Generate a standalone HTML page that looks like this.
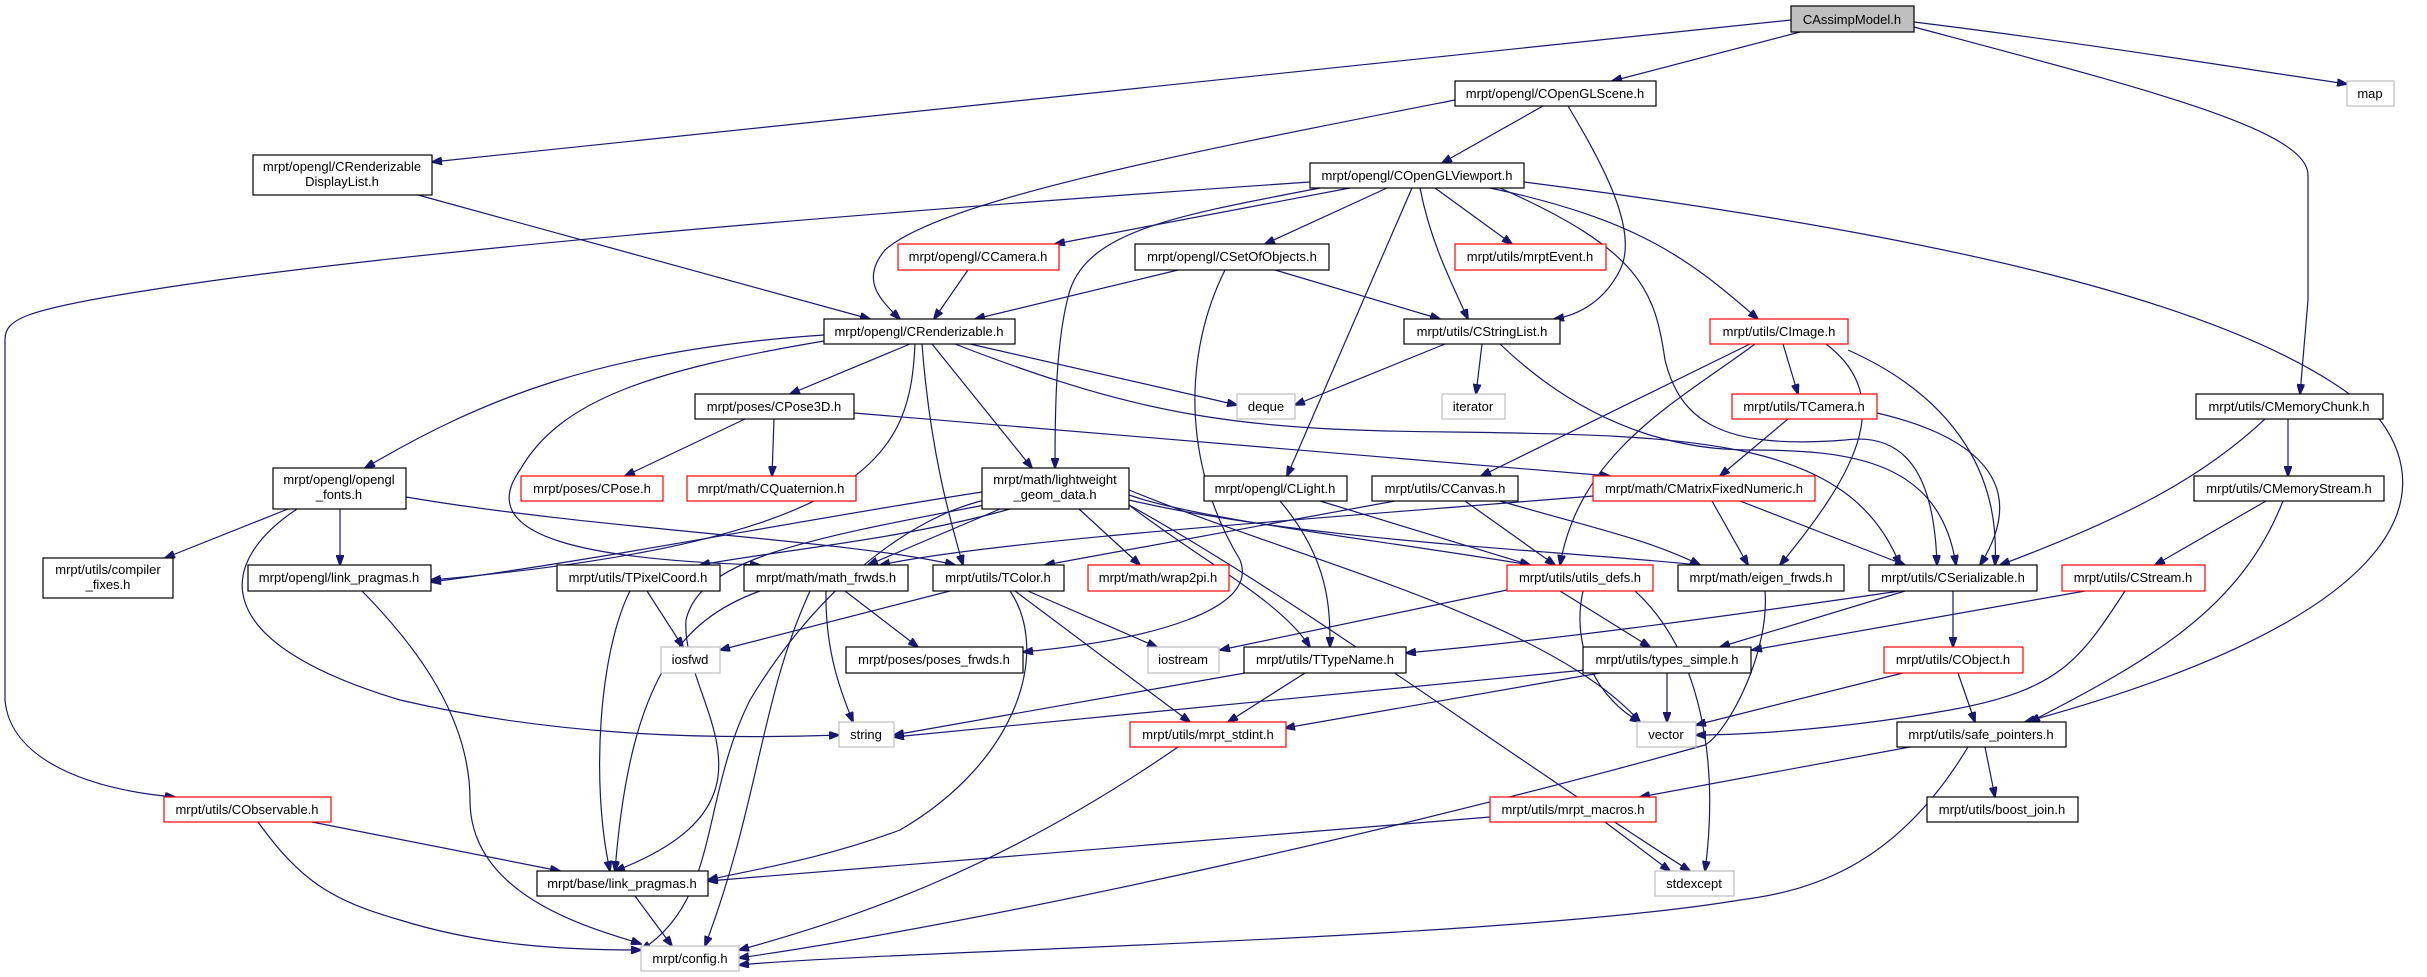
<!DOCTYPE html>
<html><head><meta charset="utf-8"><style>
html,body{margin:0;padding:0;background:#fff;}
svg{display:block;}
text{font-family:"Liberation Sans",sans-serif;font-size:13px;fill:#000;text-anchor:middle;}
.n rect{fill:#fff;stroke:#000;stroke-width:1.2;}
.r rect{fill:#fff;stroke:#ff0000;stroke-width:1.2;}
.g rect{fill:#fff;stroke:#bfbfbf;stroke-width:1.2;}
path{fill:none;stroke:#191970;stroke-width:1.2;}
</style></head><body>
<svg width="2427" height="977" viewBox="0 0 2427 977" xmlns="http://www.w3.org/2000/svg">
<defs><marker id="a" markerWidth="11" markerHeight="8" refX="10" refY="4" orient="auto" markerUnits="userSpaceOnUse"><polygon points="0,0 11,4 0,8" fill="#191970" stroke="#191970"/></marker></defs>
<g marker-end="url(#a)">
<path d="M1791,20 L432,162"/>
<path d="M1800,32 L1612,81"/>
<path d="M1914,22 C2100,45 2250,70 2347,84"/>
<path d="M1914,27 C2150,90 2308,130 2308,175 L2308,300 L2300,394"/>
<path d="M1455,100 C1200,150 940,200 885,250 C860,280 880,300 900,319"/>
<path d="M1543,106 L1442,163"/>
<path d="M1568,106 C1600,160 1640,230 1620,270 C1605,300 1580,315 1554,319"/>
<path d="M418,195 L870,319"/>
<path d="M1310,182 C900,210 400,250 150,290 C20,310 5,320 5,340 L5,700 C10,760 90,790 175,797"/>
<path d="M1350,188 L1055,244"/>
<path d="M1387,188 L1265,244"/>
<path d="M1320,188 C1180,215 1090,230 1070,290 C1055,340 1055,420 1055,468"/>
<path d="M1412,188 L1287,476"/>
<path d="M1420,188 C1430,240 1450,280 1468,319"/>
<path d="M1435,188 L1512,244"/>
<path d="M1490,188 C1640,220 1690,260 1758,319"/>
<path d="M1500,188 C1640,250 1655,290 1665,360 C1680,420 1720,450 1845,440 C1920,430 1935,500 1937,565"/>
<path d="M1524,182 C1900,230 2260,300 2380,420 C2440,500 2400,620 2025,722"/>
<path d="M968,270 L934,319"/>
<path d="M1178,270 L975,319"/>
<path d="M1275,270 L1440,319"/>
<path d="M1225,270 C1185,350 1180,460 1240,560 C1260,610 1150,640 1023,652"/>
<path d="M824,335 C600,350 480,400 365,468"/>
<path d="M830,340 C650,370 560,400 520,470 C470,540 600,560 760,565"/>
<path d="M910,344 L790,394"/>
<path d="M970,344 L1237,405"/>
<path d="M932,344 L1032,468"/>
<path d="M922,344 C930,450 950,520 963,565"/>
<path d="M955,344 C1150,420 1250,430 1450,432 C1700,435 1850,440 1900,565"/>
<path d="M915,344 C910,450 880,540 431,580"/>
<path d="M1445,344 L1295,405"/>
<path d="M1482,344 L1476,394"/>
<path d="M1500,344 C1600,440 1700,450 1750,450 C1850,450 1940,460 1956,565"/>
<path d="M745,419 L625,476"/>
<path d="M774,419 L772,476"/>
<path d="M854,413 L1610,476"/>
<path d="M1750,344 L1481,476"/>
<path d="M1783,344 L1798,394"/>
<path d="M1755,344 C1680,400 1580,450 1560,565"/>
<path d="M1826,344 C1900,400 1850,480 1780,565"/>
<path d="M1848,350 C1960,400 2000,480 1995,565"/>
<path d="M1788,419 L1720,476"/>
<path d="M1877,413 C1950,430 2040,470 1980,565"/>
<path d="M2265,419 C2200,480 2120,520 2000,565"/>
<path d="M2288,419 L2288,476"/>
<path d="M2266,501 L2155,565"/>
<path d="M2283,501 C2240,610 2150,660 2030,722"/>
<path d="M288,509 L165,558"/>
<path d="M340,509 L340,565"/>
<path d="M297,509 C220,560 200,640 400,700 C550,735 700,740 839,735"/>
<path d="M406,497 C600,530 850,540 955,565"/>
<path d="M982,492 C800,520 600,560 431,582"/>
<path d="M985,500 C900,520 810,600 750,700 C700,800 720,900 641,950"/>
<path d="M985,505 C800,540 700,560 686,620 C680,700 800,800 615,871"/>
<path d="M1000,509 L868,565"/>
<path d="M1010,509 C900,540 780,550 700,565"/>
<path d="M1129,495 C1200,520 1380,540 1530,565"/>
<path d="M1129,500 C1300,540 1550,550 1700,565"/>
<path d="M1129,505 C1200,560 1280,600 1310,647"/>
<path d="M1129,505 C1300,600 1500,750 1690,871"/>
<path d="M1129,490 C1300,560 1550,620 1640,722"/>
<path d="M1079,509 L1140,565"/>
<path d="M1280,501 C1330,560 1330,610 1330,647"/>
<path d="M1320,501 L1530,565"/>
<path d="M1395,501 L1045,565"/>
<path d="M1465,501 L1555,565"/>
<path d="M1500,501 C1600,530 1650,540 1700,565"/>
<path d="M1593,496 C1300,520 1000,540 880,565"/>
<path d="M1712,501 L1748,565"/>
<path d="M1740,501 L1905,565"/>
<path d="M1507,590 L1220,650"/>
<path d="M1560,591 L1650,647"/>
<path d="M1583,591 C1570,650 1600,700 1640,722"/>
<path d="M1635,591 C1700,650 1720,760 1705,871"/>
<path d="M1765,591 C1770,650 1730,730 1705,745 C1400,830 1000,920 739,958"/>
<path d="M1900,591 C1700,620 1550,640 1406,653"/>
<path d="M1905,591 L1720,647"/>
<path d="M1953,591 L1953,647"/>
<path d="M2085,591 L1752,650"/>
<path d="M2125,591 C2080,660 2060,690 1950,710 C1850,728 1750,735 1696,735"/>
<path d="M1903,673 L1696,725"/>
<path d="M1958,673 L1975,722"/>
<path d="M1910,747 L1640,797"/>
<path d="M1985,747 L1995,797"/>
<path d="M1968,747 C1900,860 1820,890 1740,900 C1500,940 900,950 739,965"/>
<path d="M845,591 L918,647"/>
<path d="M826,591 C825,650 840,690 853,722"/>
<path d="M760,591 C680,620 630,680 615,871"/>
<path d="M810,591 C760,700 760,800 705,946"/>
<path d="M647,591 L683,647"/>
<path d="M630,591 C600,650 590,780 610,871"/>
<path d="M1028,591 L1157,647"/>
<path d="M1015,591 L1190,722"/>
<path d="M1010,591 C1050,650 1020,760 900,830 C820,860 750,870 708,880"/>
<path d="M950,591 L720,650"/>
<path d="M1245,673 L894,735"/>
<path d="M1305,673 L1228,722"/>
<path d="M1585,670 L894,737"/>
<path d="M1600,673 L1285,728"/>
<path d="M1667,673 L1667,722"/>
<path d="M1178,747 C1000,870 850,920 739,950"/>
<path d="M1490,817 L708,881"/>
<path d="M1605,822 L1670,871"/>
<path d="M312,822 L560,871"/>
<path d="M258,822 C300,880 330,900 400,920 C480,945 560,950 641,950"/>
<path d="M635,896 L672,946"/>
<path d="M362,591 C420,650 470,720 470,800 C470,900 600,930 641,944"/>
</g>
<g class="n"><rect x="1791" y="6" width="123" height="26" style="fill:#bfbfbf"/><text x="1852" y="24">CAssimpModel.h</text></g>
<g class="g"><rect x="2347" y="81" width="47" height="25"/><text x="2370" y="98">map</text></g>
<g class="n"><rect x="253" y="155" width="179" height="40"/><text x="342" y="171">mrpt/opengl/CRenderizable</text><text x="342" y="186">DisplayList.h</text></g>
<g class="n"><rect x="1455" y="81" width="201" height="25"/><text x="1555" y="98">mrpt/opengl/COpenGLScene.h</text></g>
<g class="n"><rect x="1310" y="163" width="214" height="25"/><text x="1417" y="180">mrpt/opengl/COpenGLViewport.h</text></g>
<g class="r"><rect x="898" y="244" width="161" height="26"/><text x="978" y="261">mrpt/opengl/CCamera.h</text></g>
<g class="n"><rect x="1135" y="244" width="194" height="26"/><text x="1232" y="261">mrpt/opengl/CSetOfObjects.h</text></g>
<g class="r"><rect x="1455" y="244" width="151" height="26"/><text x="1530" y="261">mrpt/utils/mrptEvent.h</text></g>
<g class="n"><rect x="824" y="319" width="191" height="25"/><text x="919" y="336">mrpt/opengl/CRenderizable.h</text></g>
<g class="n"><rect x="1404" y="319" width="156" height="25"/><text x="1482" y="336">mrpt/utils/CStringList.h</text></g>
<g class="r"><rect x="1710" y="319" width="138" height="25"/><text x="1779" y="336">mrpt/utils/CImage.h</text></g>
<g class="g"><rect x="1237" y="394" width="58" height="25"/><text x="1266" y="411">deque</text></g>
<g class="g"><rect x="1442" y="394" width="63" height="25"/><text x="1473" y="411">iterator</text></g>
<g class="n"><rect x="695" y="394" width="159" height="25"/><text x="774" y="411">mrpt/poses/CPose3D.h</text></g>
<g class="r"><rect x="1732" y="394" width="145" height="25"/><text x="1804" y="411">mrpt/utils/TCamera.h</text></g>
<g class="n"><rect x="2196" y="394" width="187" height="25"/><text x="2289" y="411">mrpt/utils/CMemoryChunk.h</text></g>
<g class="n"><rect x="273" y="468" width="133" height="41"/><text x="339" y="484">mrpt/opengl/opengl</text><text x="339" y="499">_fonts.h</text></g>
<g class="r"><rect x="521" y="476" width="142" height="25"/><text x="592" y="493">mrpt/poses/CPose.h</text></g>
<g class="r"><rect x="687" y="476" width="169" height="25"/><text x="771" y="493">mrpt/math/CQuaternion.h</text></g>
<g class="n"><rect x="982" y="468" width="147" height="41"/><text x="1055" y="484">mrpt/math/lightweight</text><text x="1055" y="499">_geom_data.h</text></g>
<g class="n"><rect x="1204" y="476" width="143" height="25"/><text x="1275" y="493">mrpt/opengl/CLight.h</text></g>
<g class="n"><rect x="1372" y="476" width="146" height="25"/><text x="1445" y="493">mrpt/utils/CCanvas.h</text></g>
<g class="r"><rect x="1593" y="476" width="222" height="25"/><text x="1704" y="493">mrpt/math/CMatrixFixedNumeric.h</text></g>
<g class="n"><rect x="2194" y="476" width="190" height="25"/><text x="2289" y="493">mrpt/utils/CMemoryStream.h</text></g>
<g class="n"><rect x="43" y="558" width="130" height="40"/><text x="108" y="574">mrpt/utils/compiler</text><text x="108" y="589">_fixes.h</text></g>
<g class="n"><rect x="248" y="565" width="183" height="26"/><text x="339" y="582">mrpt/opengl/link_pragmas.h</text></g>
<g class="n"><rect x="557" y="565" width="163" height="26"/><text x="638" y="582">mrpt/utils/TPixelCoord.h</text></g>
<g class="n"><rect x="744" y="565" width="164" height="26"/><text x="826" y="582">mrpt/math/math_frwds.h</text></g>
<g class="n"><rect x="933" y="565" width="131" height="26"/><text x="998" y="582">mrpt/utils/TColor.h</text></g>
<g class="r"><rect x="1088" y="565" width="141" height="26"/><text x="1158" y="582">mrpt/math/wrap2pi.h</text></g>
<g class="r"><rect x="1507" y="565" width="146" height="26"/><text x="1580" y="582">mrpt/utils/utils_defs.h</text></g>
<g class="n"><rect x="1678" y="565" width="166" height="26"/><text x="1761" y="582">mrpt/math/eigen_frwds.h</text></g>
<g class="n"><rect x="1869" y="565" width="168" height="26"/><text x="1953" y="582">mrpt/utils/CSerializable.h</text></g>
<g class="r"><rect x="2062" y="565" width="143" height="26"/><text x="2133" y="582">mrpt/utils/CStream.h</text></g>
<g class="g"><rect x="661" y="647" width="59" height="26"/><text x="690" y="664">iosfwd</text></g>
<g class="n"><rect x="846" y="647" width="177" height="26"/><text x="934" y="664">mrpt/poses/poses_frwds.h</text></g>
<g class="g"><rect x="1148" y="647" width="71" height="26"/><text x="1183" y="664">iostream</text></g>
<g class="n"><rect x="1244" y="647" width="162" height="26"/><text x="1325" y="664">mrpt/utils/TTypeName.h</text></g>
<g class="n"><rect x="1583" y="647" width="168" height="26"/><text x="1667" y="664">mrpt/utils/types_simple.h</text></g>
<g class="r"><rect x="1884" y="647" width="139" height="26"/><text x="1953" y="664">mrpt/utils/CObject.h</text></g>
<g class="g"><rect x="839" y="722" width="55" height="25"/><text x="866" y="739">string</text></g>
<g class="r"><rect x="1130" y="722" width="156" height="25"/><text x="1208" y="739">mrpt/utils/mrpt_stdint.h</text></g>
<g class="g"><rect x="1637" y="722" width="59" height="25"/><text x="1666" y="739">vector</text></g>
<g class="n"><rect x="1897" y="722" width="169" height="25"/><text x="1981" y="739">mrpt/utils/safe_pointers.h</text></g>
<g class="r"><rect x="164" y="797" width="167" height="25"/><text x="247" y="814">mrpt/utils/CObservable.h</text></g>
<g class="r"><rect x="1490" y="797" width="166" height="25"/><text x="1573" y="814">mrpt/utils/mrpt_macros.h</text></g>
<g class="n"><rect x="1927" y="797" width="151" height="25"/><text x="2002" y="814">mrpt/utils/boost_join.h</text></g>
<g class="n"><rect x="537" y="871" width="171" height="25"/><text x="622" y="888">mrpt/base/link_pragmas.h</text></g>
<g class="g"><rect x="1655" y="871" width="79" height="25"/><text x="1694" y="888">stdexcept</text></g>
<g class="g"><rect x="641" y="946" width="98" height="25"/><text x="690" y="963">mrpt/config.h</text></g>
</svg>
</body></html>
